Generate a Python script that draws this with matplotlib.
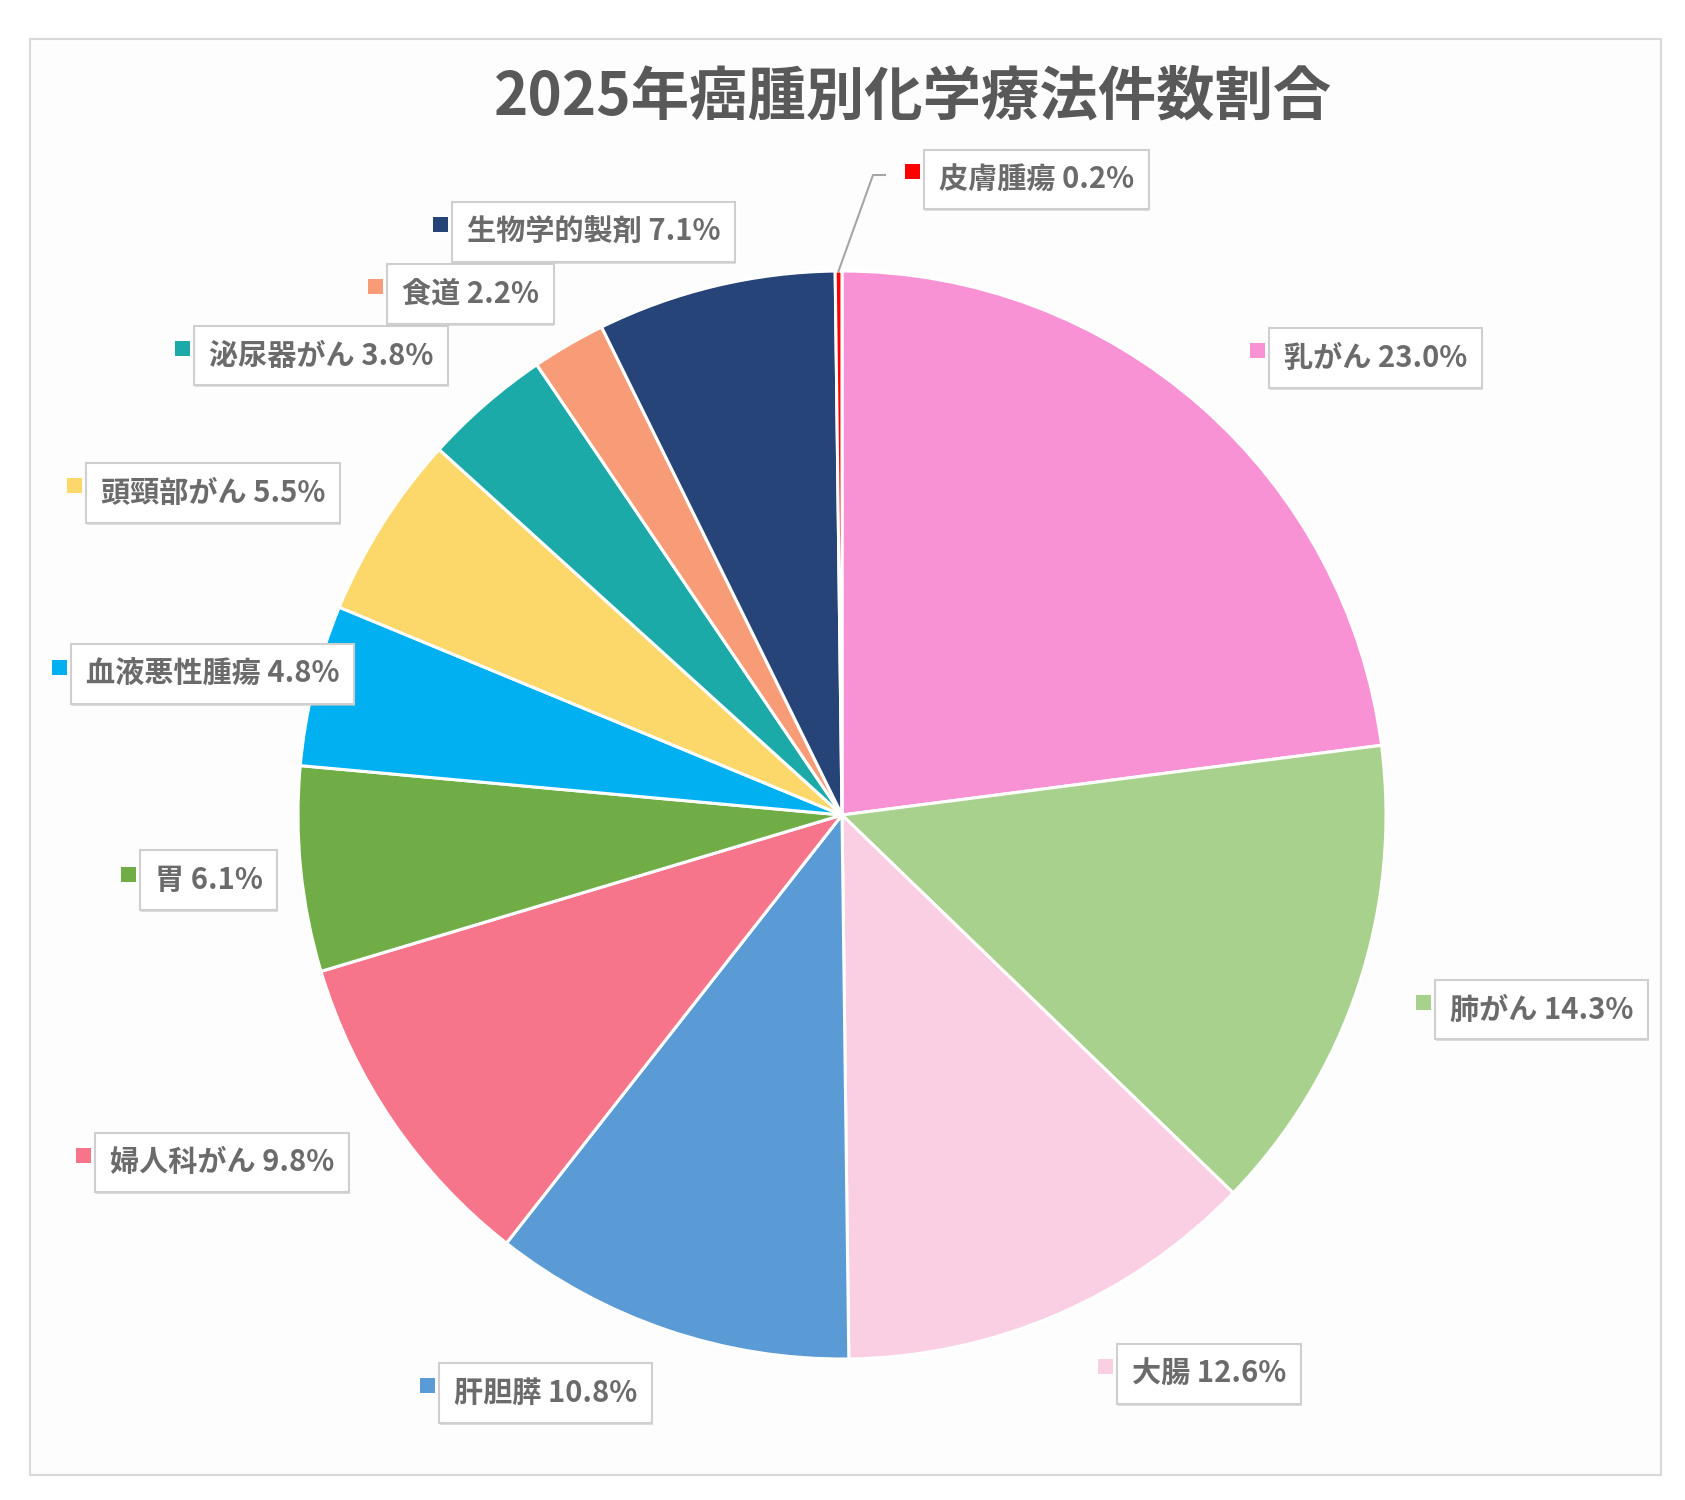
import numpy as np
import matplotlib
matplotlib.use('Agg')
import matplotlib.pyplot as plt
import matplotlib.patheffects as pe
from matplotlib.patches import Rectangle
from matplotlib.lines import Line2D

plt.rcParams['font.family'] = ['Noto Sans CJK JP', 'DejaVu Sans']

# データ（12時から時計回り）
labels = ['乳がん', '肺がん', '大腸', '肝胆膵', '婦人科がん', '胃', '血液悪性腫瘍',
          '頭頸部がん', '泌尿器がん', '食道', '生物学的製剤', '皮膚腫瘍']
shares = [23.0, 14.3, 12.6, 10.8, 9.8, 6.1, 4.8, 5.5, 3.8, 2.2, 7.1, 0.2]
colors = ['#F892D4', '#A9D18E', '#FBCFE3', '#5B9BD5', '#F7758A', '#70AD47',
          '#00B0F0', '#FCD76A', '#1CAAA8', '#F89C78', '#264478', '#FF0000']

# ラベル枠の位置（ピクセル: 左端, 上端, 下端）
label_pos = [(1274, 326, 390), (1440, 978, 1041), (1122, 1342, 1406),
             (444, 1361, 1425), (100, 1131, 1194), (145, 850, 910),
             (76, 643, 705), (91, 461, 525), (199, 324, 387),
             (392, 262, 326), (457, 200, 264), (929, 147, 212)]

W, H = 1685, 1500
fig = plt.figure(figsize=(W / 100, H / 100), dpi=100)
fig.patch.set_facecolor('white')

def fx(px):
    return px / W

def fy(py):
    return 1 - py / H

# グラフエリアの枠
fig.add_artist(Rectangle((fx(30), fy(1475)), fx(1661) - fx(30), fy(39) - fy(1475),
                         transform=fig.transFigure, fc='#FDFDFD', ec='#D9D9D9',
                         lw=1.5, zorder=-10))

cx, cy, r = 842, 815, 544
ax = fig.add_axes([fx(cx - r), fy(cy + r), 2 * r / W, 2 * r / H])
wedges, _ = ax.pie(shares, colors=colors, startangle=90, counterclock=False,
                   wedgeprops=dict(edgecolor='white', linewidth=2.2))
ax.set_xlim(-1, 1)
ax.set_ylim(-1, 1)
ax.set_aspect('equal')
ax.axis('off')

fig.text(fx(913), fy(97), '2025年癌腫別化学療法件数割合', ha='center', va='center',
         fontsize=42, fontweight='bold', color='#595959')

for lab, val, col, (bx, top, bot) in zip(labels, shares, colors, label_pos):
    mid = (top + bot) / 2
    t = fig.text(fx(bx + 10), fy(mid), f'{lab} {val:.1f}%', ha='left', va='center',
                 fontsize=21, fontweight='bold', color='#6B6B6B', zorder=5,
                 bbox=dict(boxstyle='square,pad=0.5', fc='white', ec='#CFCFCF', lw=1.5))
    t.get_bbox_patch().set_path_effects([
        pe.SimplePatchShadow(offset=(0.5, -1.5), shadow_rgbFace='#C8C8C8', alpha=0.6),
        pe.Normal()])
    ms = 15
    fig.add_artist(Rectangle((fx(bx - 24), fy(top + 17 + ms)), ms / W, ms / H,
                             transform=fig.transFigure, fc=col, ec='none', zorder=5))

# 皮膚腫瘍の引き出し線
w = wedges[-1]
ang = np.deg2rad((w.theta1 + w.theta2) / 2)
x0 = fx(cx + r * np.cos(ang))
y0 = fy(cy - r * np.sin(ang))
fig.add_artist(Line2D([x0, fx(873), fx(885)], [y0, fy(175), fy(175)],
                      transform=fig.transFigure, color='#A6A6A6', lw=1.5, zorder=5))

fig.savefig('out.png', dpi=100)
